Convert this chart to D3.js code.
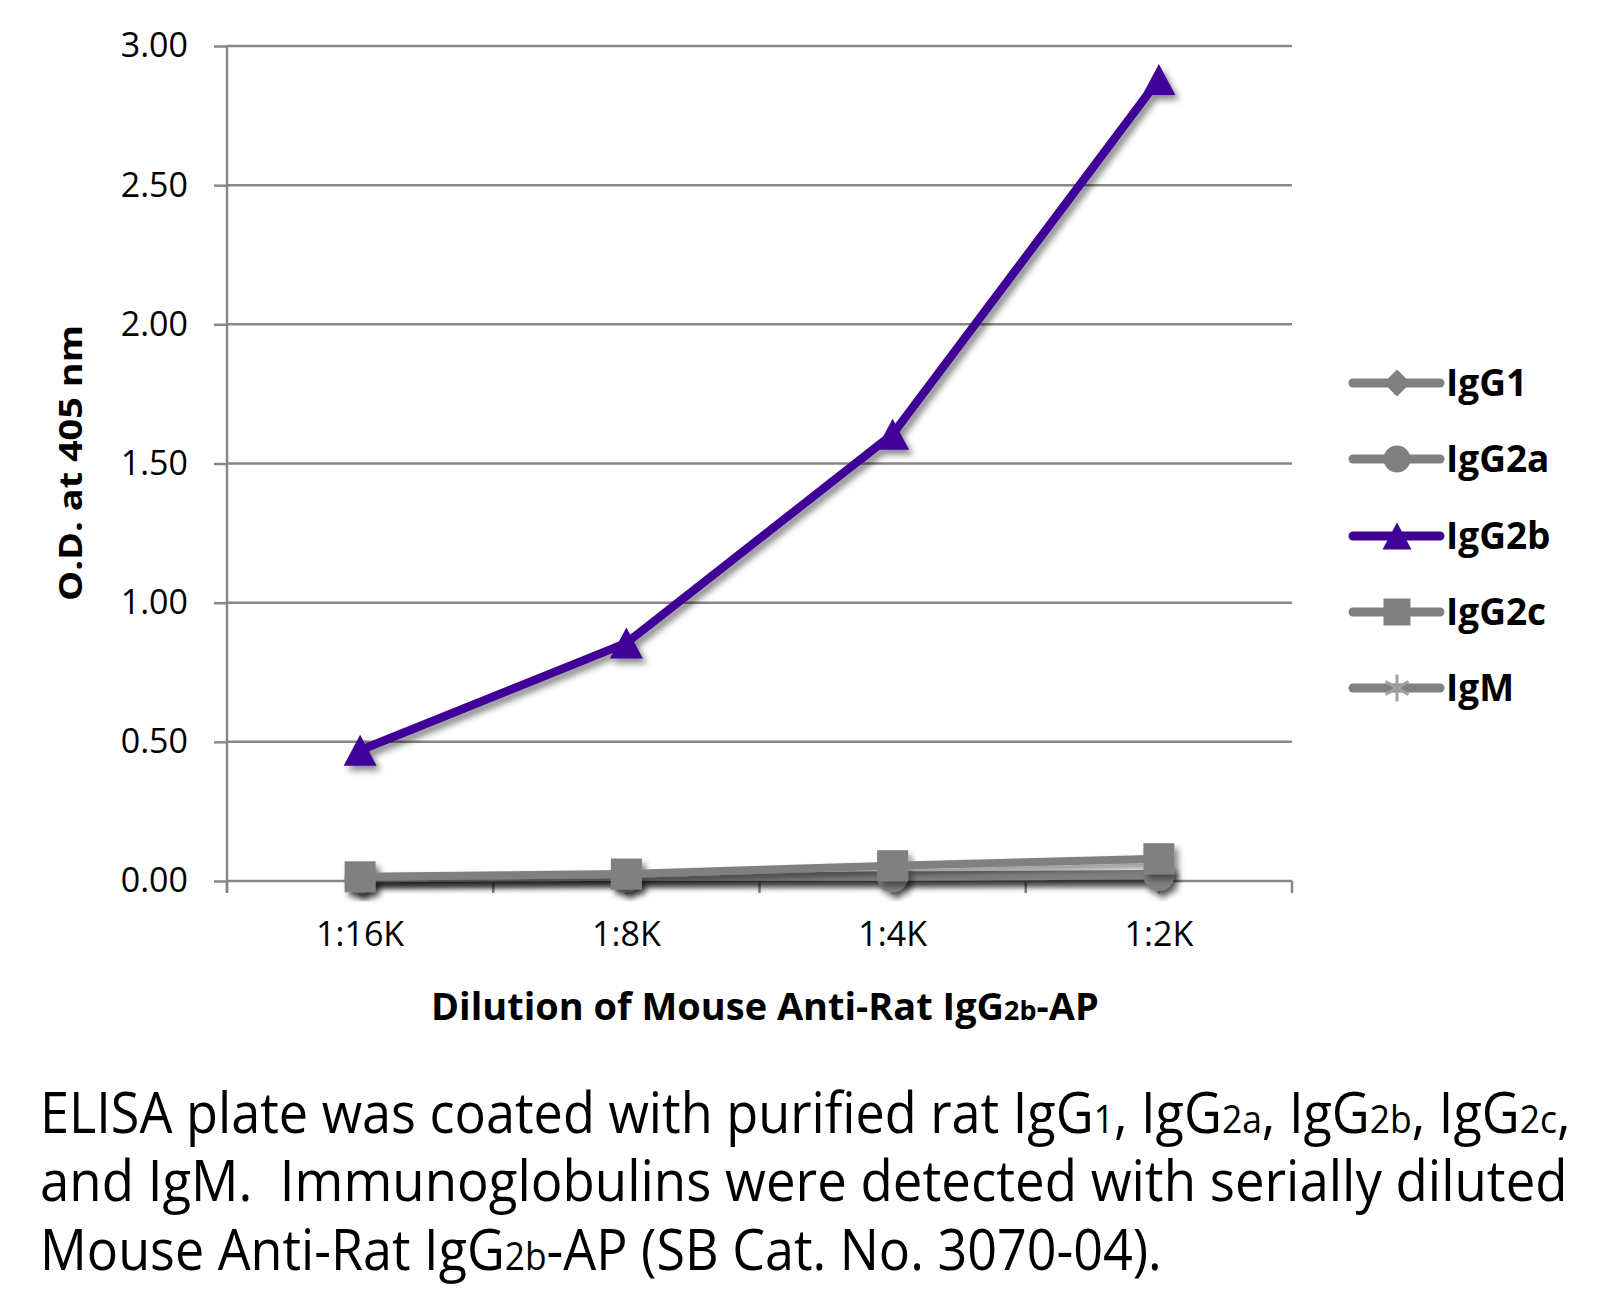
<!DOCTYPE html>
<html>
<head>
<meta charset="utf-8">
<script src="https://cdn.jsdelivr.net/npm/d3@7"></script>
<style>
  body { margin: 0; background: #fff; }
  #svgDiv { width: 1600px; height: 1306px; }
  text { font-family: "Open Sans", "DejaVu Sans", sans-serif; fill: #000; }
</style>
</head>
<body>
<div id="svgDiv"></div>
<script>
//chart data
var dilutions = ["1:16K", "1:8K", "1:4K", "1:2K"];
var seriesNames = ["IgG1", "IgG2a", "IgG2b", "IgG2c", "IgM"];
var igG1 = [0.012, 0.018, 0.020, 0.025];
var igG2a = [0.010, 0.015, 0.015, 0.020];
var igG2b = [0.47, 0.855, 1.605, 2.88];
var igG2c = [0.015, 0.025, 0.055, 0.080];
var igM = [0.005, 0.008, 0.010, 0.010];
var yTicks = [0, 0.5, 1.0, 1.5, 2.0, 2.5, 3.0];
var seriesColors = ["#808080", "#808080", "#400098", "#808080", "#808080"];
var seriesMarkers = ["diamond", "circle", "triangle", "square", "asterisk"];

var svg, xScale, yScale;
//plot area (window.top is read only, so no plain "top")
var plotLeft = 227, plotRight = 1292, plotTop = 46, plotBottom = 881;

document.addEventListener('DOMContentLoaded', function(){

    svg = d3.select("#svgDiv")
        .append("svg")
        .attr("width", 1600)
        .attr("height", 1306);

    svg.append("rect").attr("width", 1600).attr("height", 1306).attr("fill", "#fff");

    //drop shadow like the excel one
    var filter = svg.append("defs").append("filter")
        .attr("id", "shadow")
        .attr("x", "-20%").attr("y", "-20%")
        .attr("width", "140%").attr("height", "140%");
    filter.append("feDropShadow")
        .attr("dx", 4).attr("dy", 5)
        .attr("stdDeviation", 3)
        .attr("flood-color", "#000")
        .attr("flood-opacity", 0.45);

    setScales();
    drawAxes();
    drawSeries();
    drawLegend();
    drawTexts();
});

function setScales(){
    xScale = d3.scaleBand()
        .domain(dilutions)
        .range([plotLeft, plotRight]);

    yScale = d3.scaleLinear()
        .domain([0, 3])
        .range([plotBottom, plotTop]);
}

function drawAxes(){
    //horizontal gridlines
    svg.append("g").selectAll("line")
        .data(yTicks)
        .enter().append("line")
        .attr("x1", plotLeft).attr("x2", plotRight)
        .attr("y1", function(d){ return yScale(d); })
        .attr("y2", function(d){ return yScale(d); })
        .attr("stroke", "#878787")
        .attr("stroke-width", 2.5);

    var yAxis = svg.append("g")
        .attr("transform", "translate(" + plotLeft + ",0)")
        .call(d3.axisLeft(yScale).tickValues(yTicks).tickFormat(d3.format(".2f")).tickSize(13).tickPadding(26));
    yAxis.select(".domain")
        .attr("d", "M0," + plotTop + "V" + (plotBottom + 12))
        .attr("stroke", "#878787").attr("stroke-width", 2.5);
    yAxis.selectAll(".tick line").attr("stroke", "#878787").attr("stroke-width", 2.5);
    yAxis.selectAll(".tick text")
        .attr("font-size", 34)
        .style("font-family", "'Open Sans', sans-serif")
        .attr("fill", "#000");

    //x tick marks sit between the categories
    var bounds = dilutions.map(function(d){ return xScale(d); }).concat([plotRight]);
    svg.append("g").selectAll("line")
        .data(bounds)
        .enter().append("line")
        .attr("x1", function(d){ return d; })
        .attr("x2", function(d){ return d; })
        .attr("y1", plotBottom).attr("y2", plotBottom + 12)
        .attr("stroke", "#878787")
        .attr("stroke-width", 2.5);

    var xAxis = svg.append("g")
        .attr("transform", "translate(0," + plotBottom + ")")
        .call(d3.axisBottom(xScale).tickSize(0).tickPadding(65));
    xAxis.select(".domain").remove();
    xAxis.selectAll(".tick text")
        .attr("font-size", 34)
        .attr("dy", 0)
        .style("font-family", "'Open Sans', sans-serif")
        .attr("fill", "#000");
}

//marker path for a given type, centred on 0,0
function markerPath(type, s){
    var h = s / 2;
    if(type == "diamond")
        return "M0," + (-h) + "L" + h + ",0L0," + h + "L" + (-h) + ",0Z";
    if(type == "triangle")
        return "M0," + (-h) + "L" + (h + 1) + "," + h + "L" + (-h - 1) + "," + h + "Z";
    if(type == "square")
        return "M" + (-h) + "," + (-h) + "h" + s + "v" + s + "h" + (-s) + "Z";
    if(type == "circle")
        return "M" + (-h) + ",0a" + h + "," + h + " 0 1,0 " + s + ",0a" + h + "," + h + " 0 1,0 " + (-s) + ",0Z";
    //asterisk
    var d = h * 0.85;
    return "M0," + (-h) + "V" + h + "M" + (-d) + "," + (-d * 0.55) + "L" + d + "," + (d * 0.55) +
        "M" + (-d) + "," + (d * 0.55) + "L" + d + "," + (-d * 0.55);
}

function drawMarker(g, type, color, s){
    if(type == "asterisk"){
        g.append("path")
            .attr("d", markerPath(type, s))
            .attr("fill", "none")
            .attr("stroke", "#a0a0a0")
            .attr("stroke-width", 3);
    } else {
        g.append("path")
            .attr("d", markerPath(type, s))
            .attr("fill", color);
    }
}

function drawSeries(){
    var allValues = [igG1, igG2a, igG2b, igG2c, igM];
    var line = d3.line()
        .x(function(d, i){ return xScale(dilutions[i]) + xScale.bandwidth() / 2; })
        .y(function(d){ return yScale(d); });

    //gray ones first so the purple sits on top
    var order = [4, 0, 1, 3, 2];
    order.forEach(function(k){
        var g = svg.append("g").attr("filter", "url(#shadow)");
        g.append("path")
            .datum(allValues[k])
            .attr("d", line)
            .attr("fill", "none")
            .attr("stroke", seriesColors[k])
            .attr("stroke-width", k == 2 ? 8.5 : 8)
            .attr("stroke-linejoin", "round");

        allValues[k].forEach(function(v, i){
            var m = g.append("g")
                .attr("transform", "translate(" + (xScale(dilutions[i]) + xScale.bandwidth() / 2) + "," + yScale(v) + ")");
            drawMarker(m, seriesMarkers[k], seriesColors[k], 31);
        });
    });
}

function drawLegend(){
    var legend = svg.append("g");
    var rowY = [383, 459, 536, 612, 688];

    seriesNames.forEach(function(name, i){
        var row = legend.append("g").attr("transform", "translate(0," + rowY[i] + ")");
        row.append("line")
            .attr("x1", 1353).attr("x2", 1440)
            .attr("y1", 0).attr("y2", 0)
            .attr("stroke", seriesColors[i])
            .attr("stroke-width", 9)
            .attr("stroke-linecap", "round");
        var m = row.append("g").attr("transform", "translate(1397,0)");
        drawMarker(m, seriesMarkers[i], seriesColors[i], 27);
        row.append("text")
            .attr("x", 1446)
            .attr("y", 13)
            .attr("font-size", 37)
            .attr("font-weight", "bold")
            .text(name);
    });
}

//squeezes a text sideways so that it is exactly w wide (the original font is narrow)
function fitWidth(g, t, w){
    var natural = t.node().getComputedTextLength();
    var k = w / natural;
    g.attr("transform", g.attr("transform") + " scale(" + k + ",1)");
}

function drawTexts(){
    //y axis title
    var yg = svg.append("g").attr("transform", "translate(82,463) rotate(-90)");
    var yt = yg.append("text")
        .attr("text-anchor", "middle")
        .attr("font-size", 33)
        .attr("font-weight", "bold")
        .text("O.D. at 405 nm");
    fitWidth(yg, yt, 276);

    //x axis title
    var xg = svg.append("g").attr("transform", "translate(431,1020)");
    var xt = xg.append("text")
        .attr("font-size", 38)
        .attr("font-weight", "bold");
    xt.append("tspan").text("Dilution of Mouse Anti-Rat IgG");
    xt.append("tspan").attr("font-size", 27).text("2b");
    xt.append("tspan").text("-AP");
    fitWidth(xg, xt, 668);

    //caption below the chart
    var capLines = [
        { y: 1133, len: 1531, parts: [["ELISA plate was coated with purified rat IgG", 0], ["1", 1], [", IgG", 0], ["2a", 1], [", IgG", 0], ["2b", 1], [", IgG", 0], ["2c", 1], [",", 0]] },
        { y: 1201, len: 1528, parts: [["and IgM.  Immunoglobulins were detected with serially diluted", 0]] },
        { y: 1270, len: 1122, parts: [["Mouse Anti-Rat IgG", 0], ["2b", 1], ["-AP (SB Cat. No. 3070-04).", 0]] }
    ];
    capLines.forEach(function(c){
        var g = svg.append("g").attr("transform", "translate(40," + c.y + ")");
        var t = g.append("text")
            .attr("font-size", 56)
            .style("white-space", "pre");
        c.parts.forEach(function(p){
            t.append("tspan")
                .attr("font-size", p[1] ? 38 : 56)
                .text(p[0]);
        });
        fitWidth(g, t, c.len);
    });
}
</script>
</body>
</html>
